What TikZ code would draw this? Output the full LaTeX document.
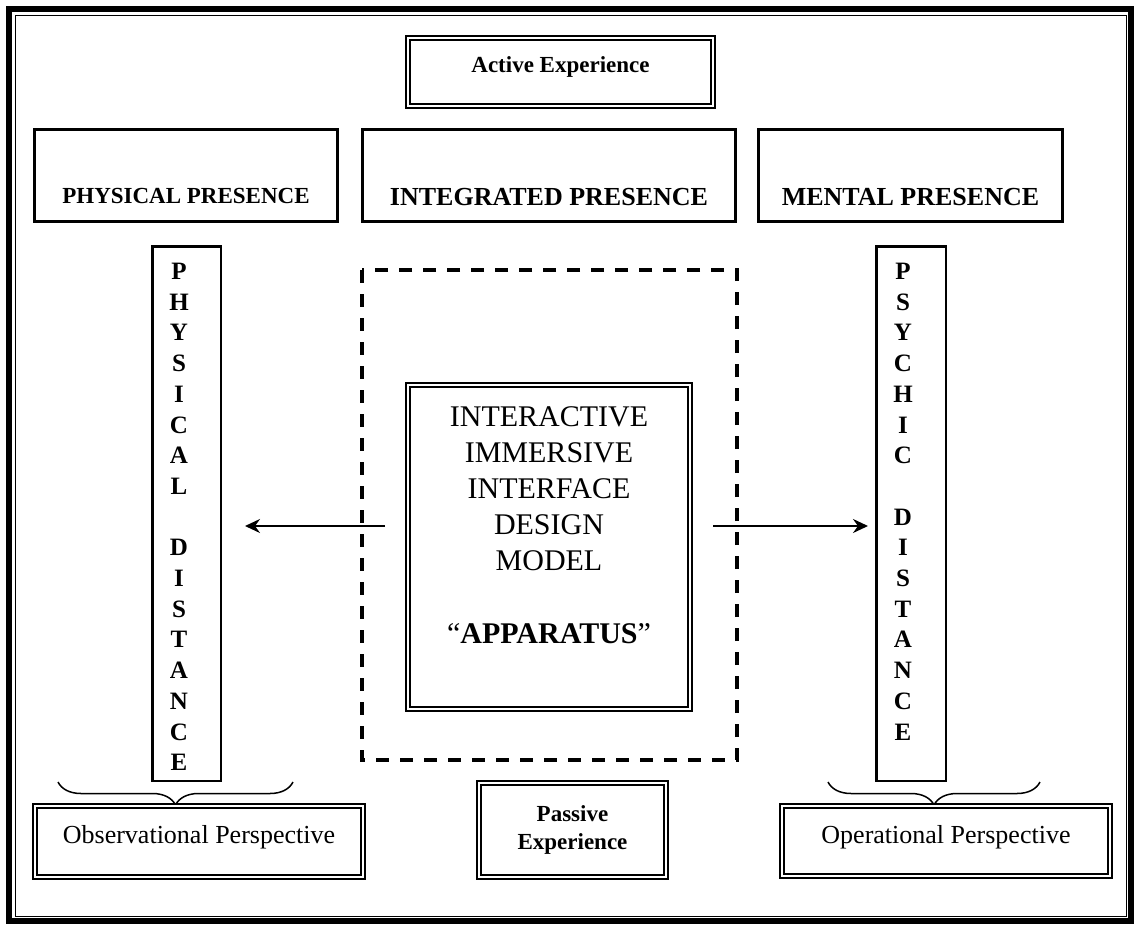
\documentclass[tikz,border=0pt]{standalone}
\usepackage{fontspec}
\setmainfont{Liberation Serif}
\usetikzlibrary{arrows.meta,decorations.pathreplacing}

\begin{document}
\begin{tikzpicture}[x=1pt, y=-1pt,
  presbox/.style={draw, line width=3.3pt, inner sep=0pt, minimum height=91.7pt},
  distbox/.style={draw, line width=2.5pt, inner sep=0pt, minimum height=534.5pt},
  dblbox/.style={draw, double, double distance=2.2pt, line width=1.8pt, inner sep=0pt},
  letters/.style={anchor=north, inner sep=0pt, align=center, font=\bfseries\fontsize{25}{30.7}\selectfont},
  arr/.style={line width=2pt, -{Stealth[length=15pt, width=14pt, inset=5pt]}},
  brace/.style={line width=1.5pt, decorate, decoration={brace, mirror, amplitude=23pt}}]
  \useasboundingbox (0,0) rectangle (1135,924);

  % page frame
  \draw[line width=5.5pt] (9,9) rectangle (1131,921);
  \draw[line width=1.5pt] (15.5,15.5) rectangle (1126.5,916.5);

  % active / passive experience
  \node[dblbox, minimum width=305pt, minimum height=68pt, text height=16pt, text depth=16pt,
        font=\bfseries\fontsize{23}{28}\selectfont] (active) at (560.5,72) {Active Experience};
  \node[dblbox, minimum width=187pt, minimum height=94pt, align=center,
        font=\bfseries\fontsize{23}{28}\selectfont] (passive) at (572.5,830) {Passive\\Experience};

  % presence row
  \node[presbox, minimum width=302.7pt, text height=61pt, text depth=6pt,
        font=\bfseries\fontsize{23}{28}\selectfont] (physpres) at (186,175.5) {PHYSICAL PRESENCE};
  \node[presbox, minimum width=372.7pt, text height=65pt, text depth=6pt,
        font=\bfseries\fontsize{26}{30}\selectfont] (intpres) at (549,175.5) {INTEGRATED PRESENCE};
  \node[presbox, minimum width=303.7pt, text height=65pt, text depth=6pt,
        font=\bfseries\fontsize{26}{30}\selectfont] (mentpres) at (910.5,175.5) {MENTAL PRESENCE};

  % distance columns
  \node[distbox, minimum width=68.5pt] (physdist) at (186.5,513.5) {};
  \node[letters] (physword) at (179,263) {P\\H\\Y\\S\\I\\C\\A\\L\\[30.7pt]D\\I\\S\\T\\A\\N\\C\\E};
  \node[distbox, minimum width=69.5pt] (psydist) at (911,513.5) {};
  \node[letters] (psyword) at (903,263) {P\\S\\Y\\C\\H\\I\\C\\[30.7pt]D\\I\\S\\T\\A\\N\\C\\E};

  % the apparatus
  \draw[line width=4pt, dash pattern=on 13pt off 11pt] (362,270) rectangle (737,760);
  \node[dblbox, minimum width=282pt, minimum height=324pt] (apparatus) at (549,547) {};
  \node[anchor=north, inner sep=0pt, align=center, font=\fontsize{30}{36.2}\selectfont] (apptext) at (549,406)
    {INTERACTIVE\\IMMERSIVE\\INTERFACE\\DESIGN\\MODEL\\[36.2pt]“\textbf{APPARATUS}”};

  % arrows out to the distances
  \coordinate (ltail) at (385,526);
  \coordinate (lhead) at (245,526);
  \coordinate (rtail) at (713,526);
  \coordinate (rhead) at (868,526);
  \draw[arr] (ltail) -- (lhead);
  \draw[arr] (rtail) -- (rhead);

  % perspectives
  \draw[brace] (58,782) -- (293,782);
  \draw[brace] (828,782) -- (1040,782);
  \node[dblbox, minimum width=328pt, minimum height=71pt, text height=20pt, text depth=17pt,
        font=\fontsize{26}{30}\selectfont] (observ) at (199,841.5) {Observational Perspective};
  \node[dblbox, minimum width=328pt, minimum height=70pt, text height=20pt, text depth=16pt,
        font=\fontsize{26}{30}\selectfont] (operat) at (946,841) {Operational Perspective};
\end{tikzpicture}
\end{document}
